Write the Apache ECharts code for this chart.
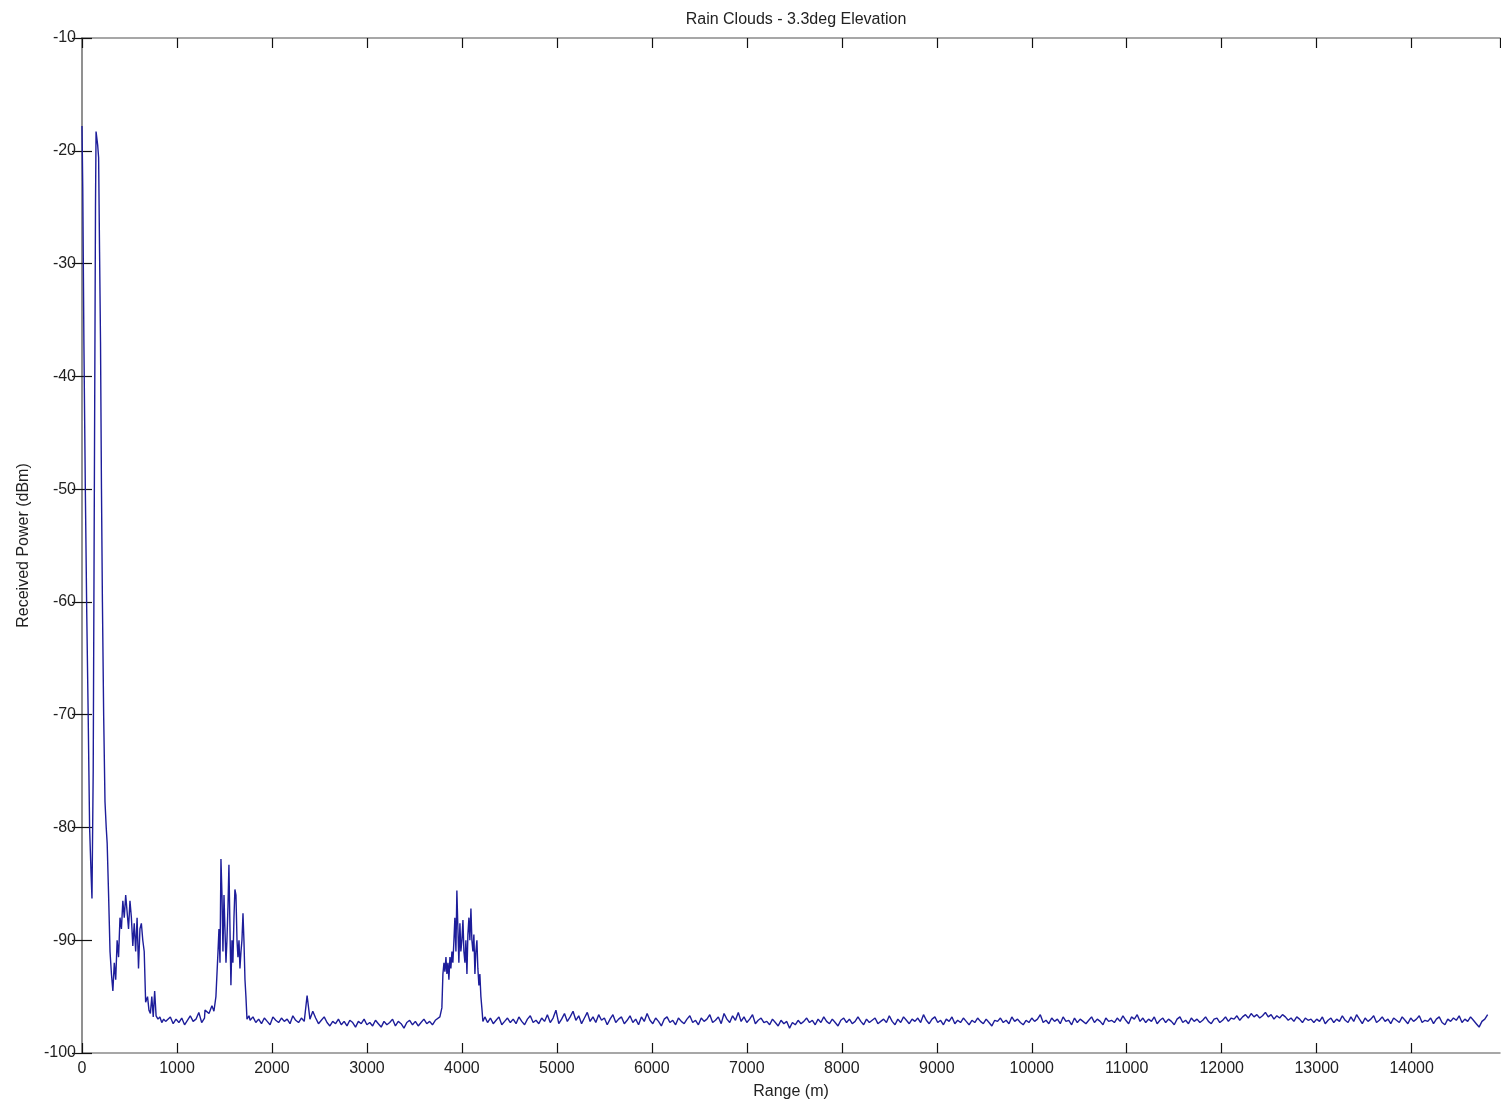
<!DOCTYPE html>
<html>
<head>
<meta charset="utf-8">
<script src="https://cdn.jsdelivr.net/npm/echarts@6/dist/echarts.min.js"></script>
<style>
html,body{margin:0;padding:0;background:#fff;}
#chart{width:1501px;height:1105px;}
</style>
</head>
<body>
<div id="chart"></div>
<script>
// ---- Data ----
const titleText = 'Rain Clouds - 3.3deg Elevation';
const xName = 'Range (m)';
const yName = 'Received Power (dBm)';

// Near-field returns (0 - 880 m)
const nearRange = [0,8,20,35,50,65,80,95,105,118,130,142,148,165,175,185,195,205,215,228,242,255,265,280,295,310,325,340,355,370,385,400,415,430,445,460,475,490,505,520,535,550,565,580,595,610,625,640,655,670,690,705,720,735,750,765,780,800,820,840,860,880];
const nearPower = [-17.8,-23.3,-37,-50,-61,-70,-80,-84,-86.3,-75,-50,-25,-18.3,-19.5,-20.6,-29,-37,-50,-60,-70,-77.7,-80,-81.4,-86,-91,-93,-94.5,-92,-93.5,-90,-91.5,-88,-89,-86.5,-88,-86,-87.5,-89,-86.5,-88,-90.5,-88.5,-91,-88,-92.5,-89,-88.5,-90,-91,-95.5,-95,-96.2,-96.5,-95,-96.8,-94.5,-96.7,-97,-96.8,-97.3,-97,-97.2];

// Noise floor 900 - 1290 m (30 m steps)
const floorAStart = 900, floorAStep = 30;
const floorAPower = [-97.2,-96.8,-97.4,-97.0,-97.3,-96.9,-97.5,-97.1,-96.7,-97.2,-97.0,-96.4,-97.3,-96.9];

// Cloud return around 1500 m
const peak2Range = [1295,1337,1368,1389,1410,1432,1442,1453,1463,1474,1484,1495,1505,1516,1526,1537,1547,1558,1568,1579,1589,1600,1610,1621,1632,1642,1653,1663,1674,1684,1695,1705,1716,1726,1737,1758];
const peak2Power = [-96.2,-96.5,-95.8,-96.3,-95,-91,-89,-92,-82.8,-86,-91,-86,-89,-92,-90,-87,-83.3,-89,-94,-90,-92,-88,-85.5,-86,-90,-91.5,-90,-92.5,-91,-90,-87.6,-90,-93.5,-95,-97,-96.7];

// Noise floor 1770 - 3720 m (30 m steps)
const floorBStart = 1770, floorBStep = 30;
const floorBPower = [-97.1,-96.8,-97.3,-97.0,-97.4,-96.9,-97.2,-97.5,-96.8,-97.1,
  -97.3,-96.9,-97.2,-97.0,-97.4,-96.7,-97.1,-97.3,-96.9,-97.2,
  -94.9,-97.0,-96.3,-96.9,-97.4,-97.1,-96.8,-97.3,-97.6,-97.2,
  -97.4,-97.0,-97.5,-97.2,-97.6,-97.1,-97.3,-97.7,-97.2,-97.4,
  -97.0,-97.5,-97.3,-97.6,-97.1,-97.4,-97.7,-97.2,-97.5,-97.3,
  -97.0,-97.6,-97.2,-97.4,-97.8,-97.3,-97.1,-97.5,-97.2,-97.6,
  -97.3,-97.0,-97.4,-97.2,-97.5,-97.1];

// Cloud return around 4000 m
const peak3Range = [3726,3768,3789,3800,3811,3821,3832,3842,3853,3863,3874,3884,3895,3905,3916,3926,3937,3947,3958,3968,3979,3989,4000,4011,4021,4032,4042,4053,4063,4074,4084,4095,4105,4116,4126,4137,4147,4158,4168,4179,4189,4200,4210,4221,4242];
const peak3Power = [-97,-96.8,-96,-93,-92,-92.8,-91.5,-93,-92,-93.5,-91.5,-92.5,-91,-92,-90,-88,-91,-85.6,-89,-92,-88.5,-91,-90,-88.2,-91,-92,-90,-93,-89.5,-88,-90,-87.2,-90,-91,-89.5,-93,-91,-90,-92.5,-94,-93,-95,-96,-97.2,-96.8];

// Noise floor 4270 - 14800 m (30 m steps)
const floorCStart = 4270, floorCStep = 30;
const floorCPower = [
  -97.3,-96.9,-97.4,-97.1,-96.8,-97.5,-97.2,-96.9,-97.3,-97.0,
  -97.4,-96.8,-97.2,-97.5,-97.0,-96.7,-97.3,-97.1,-97.4,-96.9,
  -97.2,-96.6,-97.3,-96.9,-96.2,-97.4,-97.0,-96.5,-97.2,-96.8,
  -96.3,-97.1,-96.7,-97.4,-96.9,-96.4,-97.2,-96.8,-97.3,-96.6,
  -97.1,-96.9,-97.5,-97.0,-96.6,-97.3,-97.0,-96.8,-97.4,-97.1,
  -96.7,-97.3,-97.0,-97.5,-96.8,-97.2,-96.5,-97.1,-97.4,-96.9,
  -97.2,-97.6,-97.0,-96.8,-97.3,-97.1,-97.5,-96.9,-97.2,-97.4,
  -97.0,-96.7,-97.3,-97.1,-97.5,-96.9,-97.2,-97.0,-96.6,-97.3,
  -97.1,-96.8,-97.4,-96.5,-97.0,-97.3,-96.7,-97.1,-96.4,-97.2,
  -96.8,-97.3,-97.0,-96.6,-97.4,-97.1,-96.9,-97.3,-97.2,-97.5,
  -97.0,-97.3,-97.6,-97.1,-97.4,-97.2,-97.8,-97.3,-97.5,-97.1,
  -97.4,-97.2,-96.9,-97.3,-97.1,-97.5,-97.0,-97.3,-96.8,-97.2,
  -97.4,-97.0,-97.3,-97.6,-97.1,-96.9,-97.3,-97.0,-97.4,-97.2,
  -96.8,-97.2,-97.5,-97.0,-97.3,-97.1,-96.9,-97.4,-97.2,-97.0,
  -97.3,-96.7,-97.2,-97.5,-97.0,-97.3,-96.8,-97.1,-97.4,-97.0,
  -97.2,-96.9,-97.3,-96.6,-97.1,-97.4,-97.0,-96.8,-97.3,-97.1,
  -97.5,-97.0,-97.2,-96.8,-97.4,-97.1,-97.3,-96.9,-97.2,-97.5,
  -97.1,-97.3,-96.9,-97.2,-97.4,-97.0,-97.3,-97.6,-97.1,-97.2,
  -96.9,-97.3,-97.1,-97.4,-96.8,-97.2,-97.0,-97.3,-97.5,-97.1,
  -97.3,-96.9,-97.2,-97.0,-96.6,-97.3,-97.1,-97.4,-96.9,-97.2,
  -97.0,-97.4,-96.8,-97.2,-97.1,-97.5,-96.9,-97.3,-97.0,-97.2,
  -97.4,-97.1,-96.8,-97.3,-97.0,-97.2,-97.5,-96.9,-97.2,-97.1,
  -97.3,-96.9,-97.2,-96.7,-97.1,-97.4,-96.8,-97.0,-96.6,-97.2,
  -96.9,-97.3,-97.0,-97.2,-96.8,-97.4,-97.1,-96.9,-97.3,-97.0,
  -97.2,-97.5,-97.0,-96.8,-97.3,-97.1,-97.4,-96.9,-97.2,-97.0,
  -97.3,-97.1,-96.8,-97.2,-97.4,-97.0,-96.9,-97.3,-97.1,-96.8,
  -97.2,-96.9,-97.0,-96.7,-97.1,-96.8,-96.6,-96.9,-96.5,-96.8,
  -96.6,-96.9,-96.7,-96.4,-96.8,-96.6,-97.0,-96.7,-96.9,-96.6,
  -96.8,-97.1,-96.9,-97.2,-96.8,-97.0,-97.3,-96.9,-97.1,-97.0,
  -97.3,-97.0,-97.2,-96.8,-97.4,-97.1,-96.9,-97.3,-97.0,-97.2,
  -96.7,-97.1,-97.3,-96.8,-97.2,-96.6,-97.0,-97.4,-96.9,-97.2,
  -97.0,-96.7,-97.3,-97.1,-96.8,-97.2,-97.0,-97.4,-96.9,-97.1,
  -97.3,-96.8,-97.1,-97.4,-96.9,-97.2,-97.0,-96.7,-97.3,-97.1,
  -97.2,-96.9,-97.4,-97.0,-96.8,-97.3,-97.5,-97.0,-97.2,-96.9,
  -97.1,-96.7,-97.3,-97.0,-97.2,-96.8,-97.1,-97.4,-97.7,-97.2,
  -97.0,-96.6];

// Axis settings
const xMin = 0, xMax = 14930, xInterval = 1000;
const yMin = -100, yMax = -10, yInterval = 10;

// ---- Build series data ----
const data = [];
nearRange.forEach((r, i) => data.push([r, nearPower[i]]));
floorAPower.forEach((p, i) => data.push([floorAStart + i * floorAStep, p]));
peak2Range.forEach((r, i) => data.push([r, peak2Power[i]]));
floorBPower.forEach((p, i) => data.push([floorBStart + i * floorBStep, p]));
peak3Range.forEach((r, i) => data.push([r, peak3Power[i]]));
floorCPower.forEach((p, i) => data.push([floorCStart + i * floorCStep, p]));

const FONT = '"Liberation Sans", Arial, Helvetica, sans-serif';
const axisLineStyle = { show: true, lineStyle: { color: '#8a8a8a', width: 1.5 } };
const tickStyle = { show: true, inside: true, length: 10, lineStyle: { color: '#111', width: 1.2 } };
const labelStyle = { fontFamily: FONT, fontSize: 16, color: '#222' };
const plainNumber = v => String(v);

const chart = echarts.init(document.getElementById('chart'), null, { renderer: 'canvas' });
chart.setOption({
  animation: false,
  backgroundColor: '#ffffff',
  title: {
    text: titleText,
    left: 791,
    top: 7,
    textAlign: 'center',
    textStyle: { fontFamily: FONT, fontSize: 16, fontWeight: 'normal', color: '#222' }
  },
  grid: { left: 82, right: 1, top: 38, bottom: 50, containLabel: false },
  xAxis: [
    {
      type: 'value', position: 'bottom', min: xMin, max: xMax, interval: xInterval,
      axisLine: axisLineStyle, axisTick: tickStyle,
      axisLabel: Object.assign({ margin: 8, showMaxLabel: false, formatter: plainNumber }, labelStyle),
      splitLine: { show: false },
      name: xName, nameLocation: 'middle', nameGap: 31,
      nameTextStyle: { fontFamily: FONT, fontSize: 16, color: '#222' }
    },
    {
      type: 'value', position: 'top', min: xMin, max: xMax, interval: xInterval,
      axisLine: axisLineStyle, axisTick: tickStyle,
      axisLabel: { show: false }, splitLine: { show: false }
    }
  ],
  yAxis: [
    {
      type: 'value', position: 'left', min: yMin, max: yMax, interval: yInterval,
      axisLine: axisLineStyle, axisTick: tickStyle,
      axisLabel: Object.assign({ margin: 6, formatter: plainNumber }, labelStyle),
      splitLine: { show: false },
      name: yName, nameLocation: 'middle', nameGap: 50,
      nameTextStyle: { fontFamily: FONT, fontSize: 16, color: '#222' }
    },
    {
      type: 'value', position: 'right', min: yMin, max: yMax, interval: yInterval,
      axisLine: axisLineStyle, axisTick: tickStyle,
      axisLabel: { show: false }, splitLine: { show: false }
    }
  ],
  series: [{
    type: 'line',
    xAxisIndex: 0, yAxisIndex: 0,
    data: data,
    showSymbol: false,
    symbol: 'none',
    sampling: null,
    lineStyle: { color: '#1d1d9a', width: 1.4 },
    emphasis: { disabled: true }
  }]
});
</script>
</body>
</html>
